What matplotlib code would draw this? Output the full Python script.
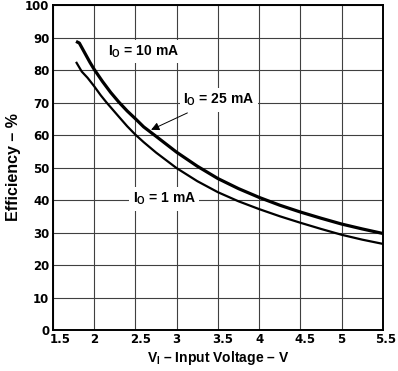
import matplotlib
matplotlib.use("Agg")
import matplotlib.pyplot as plt
from matplotlib.transforms import ScaledTranslation

plt.rcParams['font.family'] = ['Liberation Sans', 'DejaVu Sans']
plt.rcParams['font.weight'] = 'bold'
plt.rcParams['mathtext.fontset'] = 'custom'
plt.rcParams['mathtext.rm'] = 'Liberation Sans:bold'
plt.rcParams['mathtext.it'] = 'Liberation Sans:bold'
plt.rcParams['mathtext.bf'] = 'Liberation Sans:bold'

# data
# 10 mA and 25 mA curves lie on top of each other
v_high = [1.78, 1.82, 1.9, 1.95, 2.0, 2.1, 2.2, 2.3, 2.4, 2.5, 2.6, 2.75, 3.0, 3.25, 3.5, 3.75,
          4.0, 4.25, 4.5, 4.75, 5.0, 5.25, 5.5]
eff_high = [88.8, 88.3, 84.6, 82.3, 80.2, 76.5, 73.1, 70.1, 67.4, 65.0, 62.5, 59.6, 54.7, 50.4, 46.6, 43.5,
            40.8, 38.4, 36.3, 34.4, 32.6, 31.1, 29.7]
# 1 mA curve
v_low = [1.78, 1.85, 1.92, 2.0, 2.08, 2.15, 2.3, 2.4, 2.5, 2.6, 2.75, 3.0, 3.25, 3.5, 3.75,
         4.0, 4.25, 4.5, 4.75, 5.0, 5.25, 5.5]
eff_low = [82.5, 79.5, 77.6, 75.0, 72.2, 70.0, 65.6, 62.7, 60.1, 57.8, 54.6, 49.8, 45.8, 42.4, 39.6,
           37.2, 35.0, 33.0, 31.1, 29.3, 27.8, 26.5]

xticks = [1.5, 2, 2.5, 3, 3.5, 4, 4.5, 5, 5.5]
xtick_labels = ['1.5', '2', '2.5', '3', '3.5', '4', '4.5', '5', '5.5']
yticks = list(range(0, 101, 10))

fig = plt.figure(figsize=(3.98, 3.71), dpi=100)
ax = fig.add_axes([0.133, 0.1105, 0.829, 0.876])

ax.set_xlim(1.5, 5.5)
ax.set_ylim(0, 100)
ax.set_xticks(xticks)
ax.set_xticklabels(xtick_labels)
ax.set_yticks(yticks)
ax.tick_params(axis='x', length=0, pad=2.5)
ax.tick_params(axis='y', length=0, pad=2.6)
for lab in ax.get_xticklabels() + ax.get_yticklabels():
    lab.set_fontfamily('DejaVu Sans')
    lab.set_fontweight('bold')
    lab.set_fontsize(8.5)
# decimal labels sit a little right of their tick, like the original
for lab in ax.get_xticklabels():
    txt = lab.get_text()
    if '.' in txt:
        px = 7 if txt == '1.5' else (3 if txt == '5.5' else 5)
        lab.set_transform(lab.get_transform() + ScaledTranslation(px / 100, 0, fig.dpi_scale_trans))
ax.grid(True, color='0.25', linewidth=0.8)
ax.set_axisbelow(True)
for s in ax.spines.values():
    s.set_linewidth(1.4)
    s.set_color('black')

ax.plot(v_high, eff_high, color='black', linewidth=2.3, solid_capstyle='butt',
        solid_joinstyle='round', zorder=3)
ax.plot(v_low, eff_low, color='black', linewidth=1.6, solid_capstyle='butt',
        solid_joinstyle='round', zorder=3)

box = dict(facecolor='white', edgecolor='none', pad=2.5)
ax.text(2.6, 85.6, r'$\mathrm{I_O}$ = 10 mA', ha='center', va='center',
        fontsize=10, fontweight='bold', bbox=box, zorder=4)
ax.text(3.51, 70.8, r'$\mathrm{I_O}$ = 25 mA', ha='center', va='center',
        fontsize=10, fontweight='bold', bbox=box, zorder=4)
ax.text(2.85, 40.3, r'$\mathrm{I_O}$ = 1 mA', ha='center', va='center',
        fontsize=10, fontweight='bold', bbox=box, zorder=4)
ax.annotate('', xy=(2.69, 61.6), xytext=(3.13, 66.8),
            arrowprops=dict(arrowstyle='-|>', color='black', lw=0.7,
                            mutation_scale=12, shrinkA=0, shrinkB=0), zorder=4)

ax.set_xlabel(r'$\mathrm{V_I}$ – Input Voltage – V', fontsize=10, fontweight='bold', labelpad=2)
ax.set_ylabel('Efficiency – %', fontsize=11.5, fontweight='bold', labelpad=3)

fig.savefig('out.png', dpi=100)
